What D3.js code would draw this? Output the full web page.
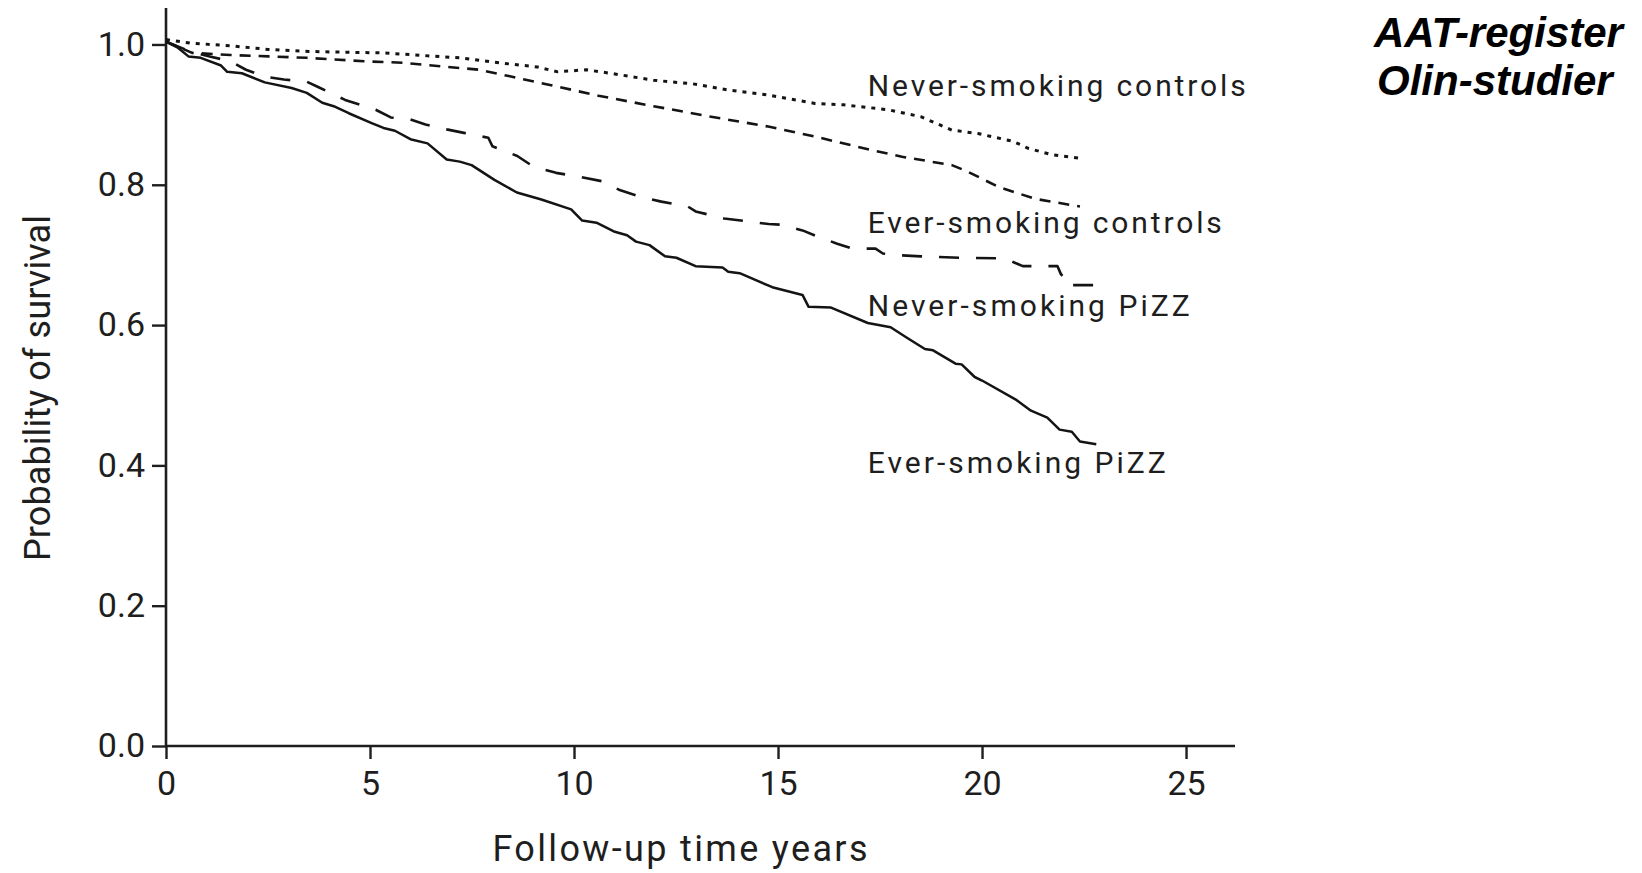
<!DOCTYPE html>
<html>
<head>
<meta charset="utf-8">
<script src="https://cdn.jsdelivr.net/npm/d3@7"></script>
<style>
  html, body { margin: 0; padding: 0; background: #fff; }
  svg { display: block; }
</style>
</head>
<body>
<svg id="chart" width="1642" height="873"></svg>
<script>
// Kaplan–Meier survival estimates, [follow-up years, probability of survival]
const everSmokingPiZZ = [
  [0, 1.004], [0.3, 0.995], [0.55, 0.983], [0.85, 0.981], [1.35, 0.970], [1.5, 0.961],
  [1.86, 0.959], [2.42, 0.946], [3.08, 0.938], [3.45, 0.931], [3.83, 0.917], [4.11, 0.912],
  [4.48, 0.902], [5.04, 0.888], [5.33, 0.881], [5.61, 0.877], [5.99, 0.865], [6.41, 0.859],
  [6.88, 0.836], [7.2, 0.833], [7.49, 0.828], [8.05, 0.807], [8.6, 0.789], [9.2, 0.779],
  [9.93, 0.765], [10.2, 0.749], [10.55, 0.746], [11.0, 0.733], [11.3, 0.728], [11.52, 0.719],
  [11.85, 0.714], [12.23, 0.698], [12.51, 0.696], [12.98, 0.684], [13.64, 0.682], [13.78, 0.676],
  [14.06, 0.674], [14.86, 0.654], [15.6, 0.643], [15.75, 0.626], [16.3, 0.625], [17.2, 0.603],
  [17.76, 0.597], [18.13, 0.583], [18.6, 0.566], [18.8, 0.564], [19.35, 0.545], [19.5, 0.544],
  [19.82, 0.526], [20.0, 0.521], [20.85, 0.493], [21.2, 0.478], [21.6, 0.468], [21.9, 0.451],
  [22.2, 0.448], [22.4, 0.434], [22.8, 0.430]
];

const neverSmokingPiZZ = [
  [0, 1.004], [0.64, 0.989], [1.07, 0.983], [1.58, 0.976], [1.96, 0.964], [2.42, 0.954],
  [2.89, 0.950], [3.45, 0.947], [3.74, 0.939], [4.39, 0.921], [5.14, 0.907], [5.51, 0.896],
  [5.99, 0.893], [6.36, 0.886], [6.88, 0.879], [7.3, 0.874], [7.9, 0.867], [8.0, 0.855],
  [8.61, 0.841], [9.0, 0.826], [9.56, 0.817], [10.08, 0.812], [10.69, 0.805], [11.1, 0.793],
  [11.62, 0.783], [12.14, 0.776], [12.79, 0.769], [12.98, 0.762], [13.68, 0.752], [14.77, 0.744],
  [15.09, 0.743], [15.6, 0.735], [15.98, 0.726], [16.45, 0.716], [16.82, 0.709], [17.39, 0.709],
  [17.57, 0.702], [17.85, 0.700], [18.5, 0.698], [19.44, 0.696], [20.56, 0.695], [20.76, 0.690],
  [21.0, 0.684], [21.85, 0.684], [21.93, 0.673], [22.03, 0.666], [22.07, 0.657], [22.85, 0.657]
];

const everSmokingControls = [
  [0, 1.004], [0.64, 0.988], [1.58, 0.985], [2.52, 0.983], [3.45, 0.981], [4.86, 0.976],
  [5.8, 0.974], [6.73, 0.969], [7.67, 0.964], [8.4, 0.955], [9.35, 0.943], [10.6, 0.927],
  [11.95, 0.912], [13.36, 0.897], [14.76, 0.883], [15.89, 0.869], [17.1, 0.852], [18.04, 0.840],
  [19.26, 0.828], [19.64, 0.819], [20.4, 0.797], [21.3, 0.780], [22.4, 0.769]
];

const neverSmokingControls = [
  [0, 1.007], [0.6, 1.002], [1.6, 0.998], [2.5, 0.993], [3.5, 0.990], [5.3, 0.988],
  [7.2, 0.981], [8.3, 0.973], [9.1, 0.968], [9.6, 0.961], [10.3, 0.964], [11.0, 0.958],
  [11.95, 0.949], [12.9, 0.944], [13.8, 0.935], [14.76, 0.928], [15.9, 0.916], [16.6, 0.914],
  [17.7, 0.907], [18.5, 0.897], [19.26, 0.878], [19.9, 0.873], [20.76, 0.862], [21.13, 0.852],
  [21.7, 0.843], [22.4, 0.838]
];

const xTicks = [0, 5, 10, 15, 20, 25];
const yTicks = [0.0, 0.2, 0.4, 0.6, 0.8, 1.0];

const seriesNames = ["Never-smoking controls", "Ever-smoking controls", "Never-smoking PiZZ", "Ever-smoking PiZZ"];
const seriesData = [neverSmokingControls, everSmokingControls, neverSmokingPiZZ, everSmokingPiZZ];

const titleLines = ["AAT-register", "Olin-studier"];

// ---- layout ----
const svg = d3.select("#chart");
const ink = "#1e1e1e";
const font = "Roboto, 'DejaVu Sans', sans-serif";

const x = d3.scaleLinear().domain([0, 26.2]).range([166, 1235]);
const y = d3.scaleLinear().domain([0, 1.052]).range([746, 8]);

// line styles per series (same order as seriesNames)
const styles = [
  { dash: "4,6", width: 3 },
  { dash: "11,8", width: 2.6 },
  { dash: "20,17", width: 2.6 },
  { dash: null, width: 2.5 }
];

// label placement for each curve, in data units
const labelPos = [
  { t: 17.2, v: 0.927, len: 378 },
  { t: 17.2, v: 0.731, len: 354 },
  { t: 17.2, v: 0.613, len: 322 },
  { t: 17.2, v: 0.389, len: 298 }
];

// axes
const yAxis = d3.axisLeft(y).tickValues(yTicks).tickFormat(d3.format(".1f")).tickSize(14).tickSizeOuter(0).tickPadding(7);
const xAxis = d3.axisBottom(x).tickValues(xTicks).tickFormat(d3.format("d")).tickSize(13).tickSizeOuter(0).tickPadding(12);

const gy = svg.append("g").attr("transform", `translate(${x(0)},0)`).call(yAxis);
const gx = svg.append("g").attr("transform", `translate(0,${y(0)})`).call(xAxis);

[gx, gy].forEach(g => {
  g.select(".domain").attr("stroke", ink).attr("stroke-width", 2.6);
  g.selectAll(".tick line").attr("stroke", ink).attr("stroke-width", 2.4);
  g.selectAll(".tick text")
    .attr("fill", ink)
    .style("font-family", font)
    .style("font-size", "34px");
});
// extend axis lines to the plot edges
gy.select(".domain").attr("d", `M0,${y(1.052)}V${y(0)}`);
gx.select(".domain").attr("d", `M${x(0)},0H${x(26.2)}`);

// curves
const line = d3.line().x(d => x(d[0])).y(d => y(d[1])).curve(d3.curveLinear);

seriesData.forEach((data, i) => {
  svg.append("path")
    .datum(data)
    .attr("d", line)
    .attr("fill", "none")
    .attr("stroke", "#141414")
    .attr("stroke-width", styles[i].width)
    .attr("stroke-dasharray", styles[i].dash)
    .attr("stroke-linejoin", "round");
});

// curve labels
seriesNames.forEach((name, i) => {
  svg.append("text")
    .attr("x", x(labelPos[i].t))
    .attr("y", y(labelPos[i].v))
    .attr("textLength", labelPos[i].len)
    .attr("lengthAdjust", "spacing")
    .attr("fill", ink)
    .style("font-family", font)
    .style("font-size", "30px")
    .text(name);
});

// axis titles
svg.append("text")
  .attr("transform", `translate(50,388) rotate(-90)`)
  .attr("text-anchor", "middle")
  .attr("textLength", 346)
  .attr("lengthAdjust", "spacing")
  .attr("fill", ink)
  .style("font-family", font)
  .style("font-size", "36px")
  .text("Probability of survival");

svg.append("text")
  .attr("x", 680)
  .attr("y", 861)
  .attr("text-anchor", "middle")
  .attr("textLength", 375)
  .attr("lengthAdjust", "spacing")
  .attr("fill", ink)
  .style("font-family", font)
  .style("font-size", "36px")
  .text("Follow-up time years");

// source heading, top right
const heading = svg.append("text")
  .attr("fill", "#000")
  .style("font-family", "'Liberation Sans', Arial, sans-serif")
  .style("font-size", "42px")
  .style("font-weight", "bold")
  .style("font-style", "italic");
heading.append("tspan").attr("x", 1374).attr("y", 47).text(titleLines[0]);
heading.append("tspan").attr("x", 1377).attr("y", 95).text(titleLines[1]);
</script>
</body>
</html>
